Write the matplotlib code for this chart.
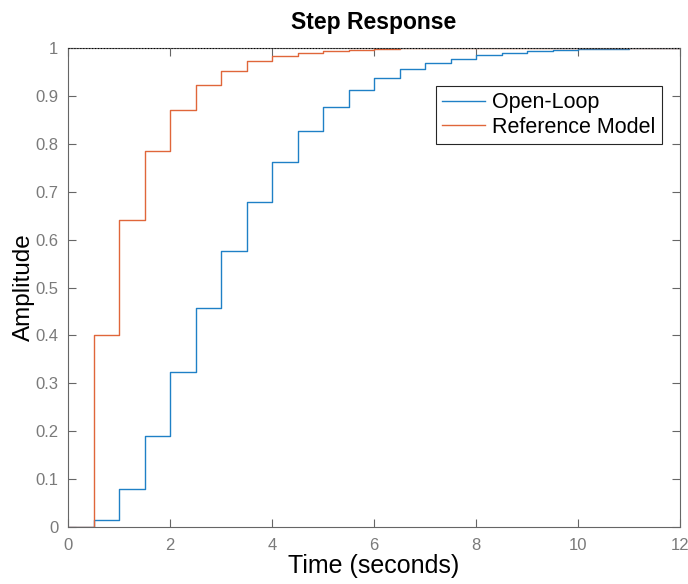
import numpy as np
import matplotlib
matplotlib.use('Agg')
import matplotlib.pyplot as plt

plt.rcParams['font.family'] = ['Liberation Sans', 'DejaVu Sans']

# sample times (Ts = 0.5 s)
t = np.arange(0, 12.01, 0.5)

# step responses read at each sample
open_loop = [0, 0.015, 0.08, 0.19, 0.323, 0.457, 0.577, 0.679, 0.762, 0.827,
             0.876, 0.912, 0.937, 0.956, 0.969, 0.978, 0.985, 0.99, 0.993, 0.995,
             0.997, 0.998, 0.999, 0.999, 1.0]
ref_model = [0, 0.4, 0.64, 0.784, 0.87, 0.922, 0.953, 0.972, 0.983, 0.99,
             0.994, 0.996, 0.998, 0.999, 0.999, 1.0, 1.0, 1.0, 1.0, 1.0,
             1.0, 1.0, 1.0, 1.0, 1.0]

xticks = [0, 2, 4, 6, 8, 10, 12]
yticks = [0, 0.1, 0.2, 0.3, 0.4, 0.5, 0.6, 0.7, 0.8, 0.9, 1]
ytick_labels = ['0', '0.1', '0.2', '0.3', '0.4', '0.5', '0.6', '0.7', '0.8', '0.9', '1']

fig = plt.figure(figsize=(6.88, 5.84), dpi=100)
ax = fig.add_axes([68/688, 1 - 527/584, 612/688, 479/584])

ax.step(t, open_loop, where='post', color='#1f80c6', lw=1.0, label='Open-Loop')
ax.step(t, ref_model, where='post', color='#e0663a', lw=1.0, label='Reference Model')
ax.axhline(1.0, color='black', ls=':', lw=0.8, zorder=5)

ax.set_xlim(0, 12)
ax.set_ylim(0, 1)
ax.set_xticks(xticks)
ax.set_yticks(yticks)
ax.set_yticklabels(ytick_labels)
ax.tick_params(direction='in', top=True, right=True, length=6, width=0.8,
               colors='#666666', labelcolor='#7a7a7a', labelsize=12)
ax.tick_params(axis='x', pad=8)
ax.tick_params(axis='y', pad=7)
for s in ax.spines.values():
    s.set_color('#666666')
    s.set_linewidth(0.8)

ax.set_title('Step Response', fontsize=16.5, fontweight='bold', pad=14)
ax.set_xlabel('Time (seconds)', fontsize=18, labelpad=1)
ax.set_ylabel('Amplitude', fontsize=17.5, labelpad=0)

leg = ax.legend(loc='upper right', bbox_to_anchor=(0.97, 0.921), fontsize=15.5,
                fancybox=False, framealpha=1, edgecolor='#262626',
                handlelength=2.0, handletextpad=0.3, borderpad=0.3,
                labelspacing=0.15, borderaxespad=0)
leg.get_frame().set_linewidth(0.8)

fig.savefig('out.png', dpi=100)
